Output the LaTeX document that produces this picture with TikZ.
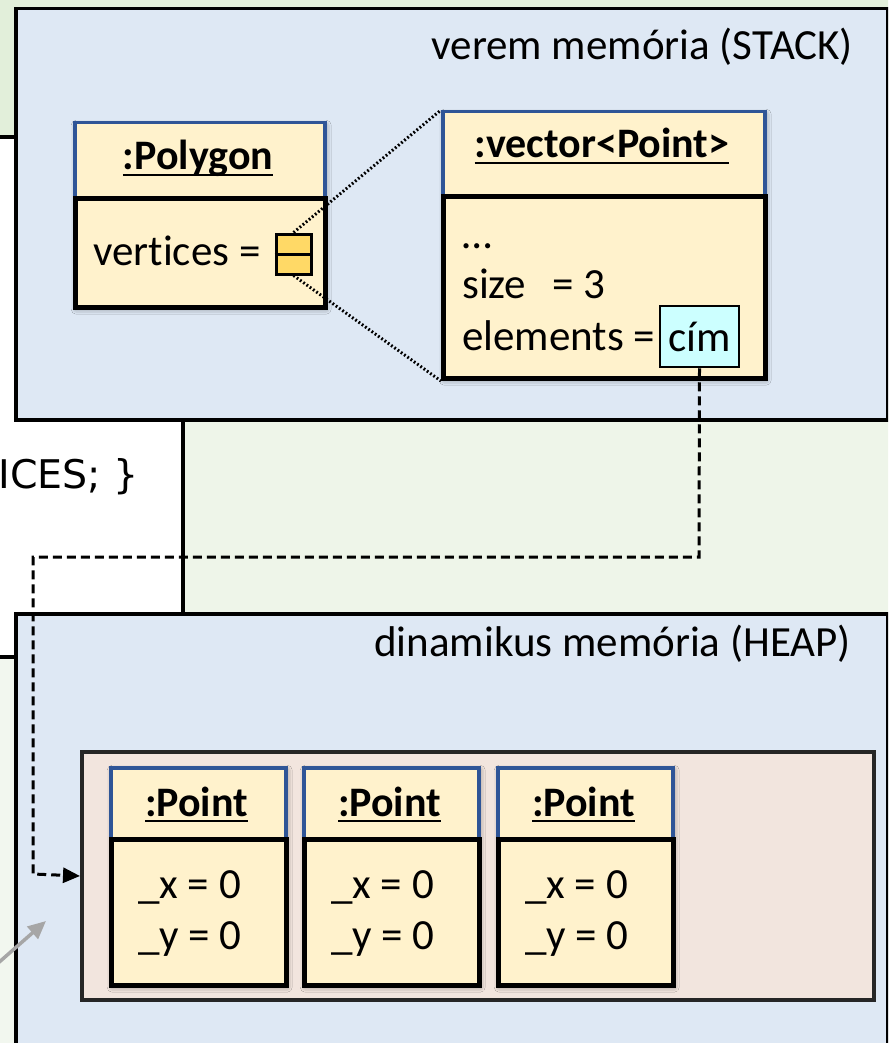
\documentclass[tikz,border=0pt]{standalone}
\usepackage{fontspec}
\setmainfont{Carlito}[Ligatures=CommonOff]
\newfontfamily\codefont{DejaVu Sans}
\usetikzlibrary{shadows.blur,arrows.meta}
\definecolor{topgreen}{HTML}{E2EFDA}
\definecolor{midgreen}{HTML}{EEF5E9}
\definecolor{lowgreen}{HTML}{F2F7EF}
\definecolor{memblue}{HTML}{DEE8F4}
\definecolor{heappink}{HTML}{F2E5DE}
\definecolor{objyellow}{HTML}{FFF2CC}
\definecolor{hdrblue}{HTML}{2F5597}
\definecolor{refgold}{HTML}{FFD966}
\definecolor{addrcyan}{HTML}{CCFFFF}
\definecolor{pointergray}{HTML}{A6A6A6}
\newcommand\ulbox[1]{\setbox0\hbox{#1}\rlap{\rule[-0.15em]{\wd0}{0.05em}}\box0}
\tikzset{
  txt/.style={font=\fontsize{43}{50}\selectfont, inner sep=0pt},
  titletxt/.style={font=\fontsize{42}{50}\selectfont\bfseries, inner sep=0pt, anchor=base},
  codetxt/.style={font=\fontsize{39.5}{46}\selectfont\codefont, inner sep=0pt},
  membox/.style={draw=black, line width=3.5pt, fill=memblue, inner sep=0pt, anchor=north west},
  heapinner/.style={draw=black!85, line width=4pt, fill=heappink, inner sep=0pt, anchor=north west},
  objshadow/.style={fill=objyellow, inner sep=0pt, anchor=north west,
     blur shadow={shadow xshift=3pt, shadow yshift=-4pt, shadow blur radius=5pt, shadow opacity=45}},
  objhead/.style={draw=hdrblue, line width=3.5pt, fill=objyellow, inner sep=0pt, anchor=north west},
  objbody/.style={draw=black, line width=5pt, fill=objyellow, inner sep=0pt, anchor=north west},
  refcell/.style={draw=black, line width=3pt, fill=refgold, inner sep=0pt, minimum width=35pt, minimum height=40pt},
  addr/.style={draw=black, line width=2.5pt, fill=addrcyan, inner sep=0pt, minimum width=79pt, minimum height=61pt, font=\fontsize{43}{50}\selectfont},
  zoomline/.style={line width=3pt, dash pattern=on 1.8pt off 2.2pt},
  ptr/.style={line width=3pt, dash pattern=on 9pt off 5pt, -{Triangle[length=17pt,width=15pt]}},
  grayptr/.style={draw=pointergray, line width=3.5pt, -{Triangle[length=18pt,width=16pt]}},
}
\begin{document}
\begin{tikzpicture}[x=1pt,y=-1pt]
\useasboundingbox (0,0) rectangle (888,1043);
\clip (0,0) rectangle (888,1043);
% backgrounds
\fill[white] (0,0) rectangle (888,1043);
\fill[topgreen] (-10,-10) rectangle (900,137);
\draw[line width=3.5pt] (-10,137) -- (20,137);
\fill[midgreen] (183,418) rectangle (900,612);
\draw[line width=3.5pt] (183,418) -- (183,612);
\fill[lowgreen] (-10,657) rectangle (20,1060);
\draw[line width=3.5pt] (-10,657) -- (20,657);
% memory areas
\node[membox, minimum width=872pt, minimum height=411pt] (stack) at (14,7) {};
\node[membox, minimum width=872pt, minimum height=470pt] (heap) at (14,612) {};
\node[txt, anchor=base east] (stackLbl) at (853,60) {verem memória (STACK)};
\node[txt, anchor=base east] (heapLbl) at (851,656) {dinamikus memória (HEAP)};
% code fragment
\node[codetxt, anchor=base east] (codeFrag) at (139,488) {ICES; \}};
% Polygon object
\node[objshadow, minimum width=250pt, minimum height=184pt] (polyS) at (73,121) {};
\node[objhead, minimum width=250pt, minimum height=75pt] (polyH) at (73,121) {};
\node[objbody, minimum width=250pt, minimum height=109pt] (polyB) at (73,196) {};
\node[titletxt] (polyT) at (198,170) {\ulbox{:Polygon}};
\node[txt, anchor=base west] (polyA) at (93,265) {vertices =};
\node[refcell] (vicon) at (293.5,254) {};
\draw[line width=3pt] (vicon.west) -- (vicon.east);
% vector object
\node[objshadow, minimum width=322pt, minimum height=266pt] (vecS) at (441,110) {};
\node[objhead, minimum width=322pt, minimum height=84pt] (vecH) at (441,110) {};
\node[objbody, minimum width=322pt, minimum height=182pt] (vecB) at (441,194) {};
\node[titletxt] (vecT) at (602,158) {\ulbox{:vector<Point>}};
\node[txt, anchor=base west] (vecA1) at (462,248) {…};
\node[txt, anchor=base west] (vecA2) at (462,298) {size\hspace{26pt}= 3};
\node[txt, anchor=base west] (vecA3) at (462,350) {elements =};
\node[addr] (cim) at (699.5,336.5) {cím};
% zoom lines
\draw[zoomline] (vicon.north) -- (vecH.north west);
\draw[zoomline] (vicon.south) -- (vecB.south west);
% array on heap
\node[heapinner, minimum width=792pt, minimum height=248pt] (arr) at (80,750) {};
\foreach \i/\xl in {1/109, 2/302, 3/496}{
  \node[objshadow, minimum width=175pt, minimum height=217pt] (ptS\i) at (\xl,766) {};
  \node[objhead, minimum width=175pt, minimum height=71pt] (ptH\i) at (\xl,766) {};
  \node[objbody, minimum width=175pt, minimum height=146pt] (ptB\i) at (\xl,837) {};
  \node[titletxt] (ptT\i) at (\xl+87.5,816) {\ulbox{:Point}};
  \node[txt, anchor=base west] (ptX\i) at (\xl+29,898) {\_x = 0};
  \node[txt, anchor=base west] (ptY\i) at (\xl+29,949) {\_y = 0};
}
% pointer from cím to the array
\coordinate (bendA) at (699,557);
\coordinate (bendB) at (33,557);
\coordinate (bendC) at (33,874);
\draw[ptr] (cim.south) -- (bendA) -- (bendB) -- (bendC) -- (arr.west);
% gray pointer
\coordinate (gStart) at (-3,964);
\coordinate (gTip) at (46,921);
\draw[grayptr] (gStart) -- (gTip);
\end{tikzpicture}
\end{document}
